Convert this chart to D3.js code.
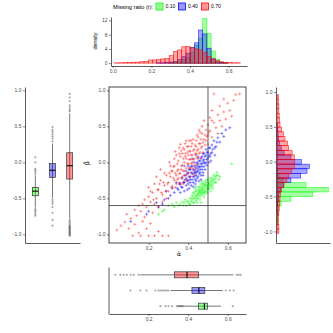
<!DOCTYPE html>
<html>
<head>
<meta charset="utf-8">
<script src="https://cdn.jsdelivr.net/npm/d3@7"></script>
<style>
  body { margin: 0; background: #fff; }
  text { font-family: "Liberation Sans", Arial, sans-serif; }
</style>
</head>
<body>
<svg width="333" height="333"></svg>
<script>
// Groups
const ratios = ["0.10", "0.40", "0.70"];
const colors = ["#00ff00", "#0000ff", "#ff0000"];

// Scatter points [alpha hat, beta hat]
const pointsGreen = [[0.40,-0.55],[0.41,-0.50],[0.41,-0.58],[0.42,-0.52],[0.42,-0.46],[0.43,-0.50],[0.43,-0.44],[0.43,-0.56],[0.44,-0.47],[0.44,-0.40],[0.44,-0.53],[0.45,-0.44],[0.45,-0.38],[0.45,-0.50],[0.46,-0.42],[0.46,-0.35],[0.46,-0.47],[0.47,-0.40],[0.47,-0.33],[0.47,-0.45],[0.48,-0.37],[0.48,-0.30],[0.48,-0.42],[0.49,-0.34],[0.49,-0.28],[0.49,-0.40],[0.50,-0.32],[0.50,-0.25],[0.50,-0.38],[0.51,-0.30],[0.51,-0.22],[0.52,-0.27],[0.52,-0.33],[0.53,-0.24],[0.53,-0.18],[0.54,-0.22],[0.55,-0.18],[0.56,-0.20],[0.38,-0.56],[0.39,-0.60],[0.37,-0.55],[0.36,-0.58],[0.35,-0.60],[0.34,-0.56],[0.33,-0.62],[0.30,-0.60],[0.28,-0.66],[0.25,-0.72],[0.27,-0.68],[0.32,-0.58],[0.62,-0.02],[0.48,-0.48],[0.46,-0.52],[0.51,-0.36],[0.47,-0.27],[0.44,-0.34],[0.45,-0.46],[0.47,-0.36],[0.49,-0.31],[0.50,-0.36],[0.46,-0.39],[0.48,-0.34],[0.42,-0.49],[0.52,-0.22],[0.54,-0.28],
  [0.415,-0.54],[0.425,-0.56],[0.425,-0.42],[0.435,-0.48],[0.435,-0.40],[0.445,-0.44],[0.445,-0.50],[0.455,-0.40],[0.455,-0.42],[0.455,-0.34],[0.465,-0.44],[0.465,-0.38],[0.465,-0.30],[0.475,-0.42],[0.475,-0.38],[0.475,-0.30],[0.485,-0.40],[0.485,-0.32],[0.485,-0.26],[0.495,-0.36],[0.495,-0.42],[0.495,-0.24],[0.505,-0.30],[0.505,-0.28],[0.505,-0.34],[0.515,-0.26],[0.515,-0.32],[0.525,-0.24],[0.525,-0.30],[0.535,-0.28],[0.535,-0.20],[0.545,-0.18],[0.555,-0.24],[0.445,-0.56],[0.405,-0.58],[0.395,-0.54],[0.385,-0.52],[0.435,-0.36],[0.465,-0.56],[0.485,-0.44],[0.515,-0.40],[0.545,-0.14],[0.525,-0.36],[0.375,-0.60]];
const pointsBlue = [[0.36,-0.30],[0.37,-0.35],[0.37,-0.22],[0.38,-0.28],[0.38,-0.18],[0.39,-0.32],[0.39,-0.22],[0.39,-0.12],[0.40,-0.25],[0.40,-0.15],[0.40,-0.30],[0.41,-0.20],[0.41,-0.10],[0.41,-0.28],[0.42,-0.16],[0.42,-0.05],[0.42,-0.24],[0.43,-0.12],[0.43,-0.20],[0.43,0.00],[0.44,-0.08],[0.44,-0.18],[0.44,-0.26],[0.45,-0.02],[0.45,-0.12],[0.45,0.06],[0.45,-0.20],[0.46,-0.06],[0.46,0.02],[0.46,-0.14],[0.47,0.08],[0.47,-0.02],[0.47,-0.10],[0.48,0.04],[0.48,0.12],[0.48,-0.06],[0.49,0.10],[0.49,0.00],[0.49,0.18],[0.50,0.06],[0.50,0.14],[0.51,0.20],[0.51,0.08],[0.52,0.24],[0.52,0.14],[0.53,0.30],[0.54,0.22],[0.55,0.34],[0.56,0.28],[0.57,0.40],[0.59,0.45],[0.61,0.48],[0.58,0.36],[0.35,-0.38],[0.34,-0.28],[0.33,-0.42],[0.32,-0.36],[0.31,-0.46],[0.30,-0.50],[0.29,-0.40],[0.28,-0.52],[0.27,-0.58],[0.25,-0.62],[0.24,-0.56],[0.20,-0.68],[0.19,-0.72],[0.11,-0.82],[0.36,-0.42],[0.38,-0.40],[0.40,-0.05],[0.42,0.05],[0.44,0.10],[0.38,-0.05],[0.44,-0.14],[0.46,-0.10],[0.43,-0.16],[0.47,-0.06],[0.45,-0.08],[0.41,-0.24],[0.48,0.00],
  [0.385,-0.24],[0.395,-0.26],[0.395,-0.16],[0.405,-0.20],[0.405,-0.10],[0.415,-0.14],[0.415,-0.32],[0.425,-0.20],[0.425,-0.10],[0.425,-0.28],[0.435,-0.06],[0.435,-0.24],[0.435,-0.14],[0.445,-0.04],[0.445,-0.12],[0.445,-0.22],[0.455,-0.16],[0.455,-0.06],[0.455,0.02],[0.465,-0.02],[0.465,-0.18],[0.465,0.06],[0.475,-0.14],[0.475,0.02],[0.475,0.12],[0.485,-0.02],[0.485,0.08],[0.485,-0.10],[0.495,0.04],[0.495,0.14],[0.495,-0.04],[0.505,0.10],[0.505,0.00],[0.505,0.20],[0.515,0.12],[0.515,0.02],[0.525,0.18],[0.535,0.20],[0.535,0.10],[0.545,0.28],[0.375,-0.28],[0.365,-0.34],[0.355,-0.30],[0.345,-0.36],[0.405,-0.36],[0.395,-0.38],[0.435,-0.30],[0.465,-0.24],[0.455,-0.26],[0.475,-0.18],[0.415,-0.06],[0.445,0.00],[0.425,-0.34]];
const pointsRed = [[0.30,-0.28],[0.31,-0.20],[0.32,-0.33],[0.32,-0.12],[0.33,-0.25],[0.33,-0.05],[0.34,-0.18],[0.34,-0.30],[0.35,-0.10],[0.35,0.02],[0.35,-0.22],[0.36,-0.15],[0.36,0.08],[0.36,-0.30],[0.37,-0.04],[0.37,-0.20],[0.37,0.12],[0.38,0.00],[0.38,-0.12],[0.38,-0.26],[0.38,0.18],[0.39,0.05],[0.39,-0.08],[0.39,-0.18],[0.40,0.10],[0.40,-0.02],[0.40,0.22],[0.40,-0.14],[0.41,0.04],[0.41,0.15],[0.41,-0.08],[0.42,0.26],[0.42,0.00],[0.42,0.10],[0.43,0.18],[0.43,0.05],[0.43,-0.04],[0.44,0.30],[0.44,0.12],[0.44,0.22],[0.45,0.08],[0.45,0.35],[0.45,0.18],[0.46,0.26],[0.46,0.14],[0.47,0.40],[0.47,0.22],[0.48,0.32],[0.49,0.45],[0.34,0.10],[0.31,-0.05],[0.29,-0.18],[0.28,-0.32],[0.30,-0.40],[0.33,0.05],[0.36,0.25],[0.39,0.30],[0.42,-0.15],[0.44,-0.02],[0.41,-0.20],
  [0.315,-0.12],[0.325,-0.22],[0.335,-0.15],[0.345,-0.02],[0.355,-0.28],[0.355,0.12],[0.365,-0.05],[0.365,-0.22],[0.375,0.05],[0.375,-0.12],[0.375,0.20],[0.385,0.08],[0.385,-0.18],[0.395,0.14],[0.395,-0.02],[0.395,0.22],[0.405,0.04],[0.405,0.16],[0.405,-0.08],[0.415,0.10],[0.415,0.22],[0.415,-0.02],[0.425,0.16],[0.425,0.04],[0.425,0.32],[0.435,0.12],[0.435,0.24],[0.435,-0.10],[0.445,0.06],[0.445,0.16],[0.455,0.26],[0.455,0.12],[0.465,0.20],[0.465,0.32],[0.475,0.28],[0.475,0.14],[0.485,0.38],[0.485,0.24],[0.495,0.36],[0.345,-0.12],[0.335,-0.35],[0.325,-0.06],[0.305,-0.15],[0.295,-0.30],[0.315,-0.35],[0.355,-0.16],[0.385,0.26],[0.365,0.16],[0.405,0.30],[0.445,0.38],[0.465,0.05],[0.435,-0.18],[0.395,-0.25],[0.375,-0.30],[0.285,-0.40],[0.275,-0.28],[0.265,-0.42],[0.255,-0.30],[0.245,-0.38],[0.225,-0.52],[0.305,0.00],[0.335,0.15],[0.355,0.20],[0.415,0.30],[0.455,0.45],[0.505,0.42],[0.425,-0.08],[0.385,0.12],[0.365,-0.10],[0.345,-0.24],
  [0.27,-0.45],[0.26,-0.25],[0.25,-0.38],[0.24,-0.50],[0.23,-0.30],[0.22,-0.42],[0.21,-0.55],[0.20,-0.48],[0.19,-0.62],[0.18,-0.52],[0.17,-0.58],[0.16,-0.68],[0.15,-0.60],[0.28,-0.15],[0.27,-0.55],[0.25,-0.62],[0.23,-0.58],[0.22,-0.70],[0.20,-0.35],[0.29,-0.50],[0.24,-0.20],[0.21,-0.40],[0.26,-0.10],
  [0.04,-0.94],[0.06,-0.88],[0.08,-0.83],[0.10,-0.92],[0.11,-0.78],[0.12,-1.02],[0.13,-0.86],[0.14,-0.74],[0.15,-0.98],[0.16,-1.02],[0.17,-0.82],[0.19,-0.92],[0.20,-1.02],[0.21,-0.85],[0.23,-1.02],[0.25,-0.96],[0.27,-1.02],[0.30,-1.02],[0.18,-0.76],[0.09,-0.72],[0.13,-0.66],
  [0.49,0.30],[0.50,0.52],[0.50,0.38],[0.51,0.62],[0.51,0.44],[0.52,0.35],[0.52,0.72],[0.53,0.55],[0.53,0.95],[0.54,0.48],[0.55,0.66],[0.55,0.40],[0.56,0.78],[0.56,0.58],[0.57,0.50],[0.58,0.70],[0.58,0.88],[0.59,0.60],[0.60,0.82],[0.61,0.72],[0.62,0.64],[0.63,0.86],[0.64,0.94],[0.66,0.95],[0.48,0.58],[0.47,0.50],[0.46,0.42],[0.52,0.58],[0.50,0.25]];

// Histogram of alpha hat (density), 30 bins
const alphaBinStart = 0.01;
const alphaBinWidth = 0.0217;
const alphaDensGreen = [0,0,0,0,0,0,0,0,0,0,0,0,0,0.1,0.3,0.5,1.0,1.5,3.0,5.0,7.0,12.5,8.3,3.4,1.0,0.3,0.1,0,0,0];
const alphaDensBlue  = [0,0,0,0,0,0,0,0,0,0,0.1,0.1,0.2,0.3,0.5,1.0,1.8,2.8,4.4,5.7,9.3,8.2,4.2,1.2,0.4,0.2,0.1,0,0,0];
const alphaDensRed   = [0.1,0.1,0.15,0.2,0.25,0.3,0.4,0.5,0.9,0.9,1.0,1.2,1.3,2.1,3.3,3.7,4.6,4.65,4.3,4.0,3.7,3.0,1.9,1.2,0.7,0.4,0.25,0.15,0.1,0.1];

// Histogram of beta hat (density), 30 bins
const betaBinStart = -1.03;
const betaBinWidth = 0.0663;
const betaDensGreen = [0,0,0.05,0.05,0.1,0.15,0.35,1.2,3.1,4.45,2.5,0.5,0.15,0.05,0,0,0,0,0,0,0,0,0,0,0,0,0,0,0,0];
const betaDensBlue  = [0,0,0,0,0.03,0.03,0.05,0.1,0.15,0.3,0.55,1.2,2.05,2.6,2.8,2.1,1.2,0.6,0.35,0.2,0.12,0.08,0.05,0.03,0,0,0,0,0,0];
const betaDensRed   = [0.15,0.15,0.12,0.12,0.15,0.18,0.2,0.25,0.3,0.4,0.6,0.85,1.03,1.28,1.5,1.54,1.5,1.3,1.0,0.9,0.68,0.55,0.4,0.25,0.2,0.18,0.15,0.15,0.12,0.1];

// Boxplot stats [lower whisker, q1, median, q3, upper whisker]
const alphaBoxStats = [[0.378,0.452,0.482,0.497,0.565],[0.31,0.419,0.454,0.484,0.575],[0.158,0.331,0.394,0.452,0.628]];
const alphaOutliers = [[0.26,0.285,0.30,0.318,0.343,0.35,0.355,0.36,0.365,0.37,0.375,0.625],
  [0.108,0.158,0.19,0.234,0.25,0.26,0.27,0.28,0.29,0.30,0.59,0.61,0.63],
  [0.032,0.057,0.074,0.09,0.11,0.125,0.15,0.645,0.655,0.665]];
const betaBoxStats = [[-0.63,-0.464,-0.40,-0.347,-0.18],[-0.50,-0.21,-0.11,-0.015,0.26],[-0.78,-0.232,-0.047,0.133,0.68]];
const betaOutliers = [[-0.16,-0.13,-0.11,-0.09,0.0,0.07,-0.65,-0.67,-0.69,-0.72,-0.74],
  [0.29,0.33,0.36,0.39,0.42,0.45,0.49,-0.52,-0.55,-0.58,-0.62,-0.70,-0.80,-0.88],
  [0.71,0.73,0.76,0.79,0.85,0.90,0.95,-0.80,-0.82,-0.84,-0.86,-0.88,-0.89,-0.90,-0.91,-0.92,-0.93,-0.94,-0.95,-0.96,-0.97,-0.98,-0.99,-1.00,-1.01,-1.02]];

const xTicks = [0.2, 0.4, 0.6];
const xTicksHist = [0.0, 0.2, 0.4, 0.6];
const yTicks = [-1.0, -0.5, 0.0, 0.5, 1.0];
const densTicks = [0, 4, 8, 12];

const svg = d3.select("svg");
const fmt = d => d3.format(".1f")(d).replace("\u2212", "-");
const axisColor = "#333";
const textColor = "#4d4d4d";

// Scales
const xSc = d3.scaleLinear().domain([0.0, 0.692]).range([109, 246]);
const ySc = d3.scaleLinear().domain([-1.12, 1.046]).range([243, 87]);
const xHist = d3.scaleLinear().domain([-0.009, 0.695]).range([111, 247]);
const yHist = d3.scaleLinear().domain([-0.8, 12.95]).range([66, 17]);
const yRight = d3.scaleLinear().domain([-1.165, 1.07]).range([243, 87]);
const xRight = d3.scaleLinear().domain([-0.1, 4.6]).range([276, 330]);
const xLeft = d3.scalePoint().domain(ratios).range([25, 80]).padding(0.6);
const yBottom = d3.scalePoint().domain(ratios.slice().reverse()).range([267, 314]).padding(0.5);

function styleAxis(g) {
  g.selectAll("path.domain").attr("stroke", axisColor).attr("stroke-width", 0.8);
  g.selectAll(".tick line").attr("stroke", axisColor).attr("stroke-width", 0.6);
  g.selectAll(".tick text").attr("fill", textColor).style("font-size", "5px")
    .style("font-family", "'Liberation Sans', Arial, sans-serif");
}

// ---- Top histogram ----
const topDens = [alphaDensGreen, alphaDensBlue, alphaDensRed];
topDens.forEach(function (dens, gi) {
  svg.append("g").selectAll("rect")
    .data(dens).enter().append("rect")
      .attr("x", (d, i) => xHist(alphaBinStart + i * alphaBinWidth))
      .attr("width", xHist(alphaBinWidth) - xHist(0))
      .attr("y", d => yHist(d))
      .attr("height", d => yHist(0) - yHist(d))
      .attr("fill", colors[gi]).attr("fill-opacity", 0.35)
      .attr("stroke", colors[gi]).attr("stroke-width", 0.6).attr("stroke-opacity", 0.8);
});
svg.append("g").attr("transform", "translate(111,0)")
  .call(d3.axisLeft(yHist).tickValues(densTicks).tickSize(2).tickPadding(1.5).tickSizeOuter(0))
  .call(styleAxis);
svg.append("g").attr("transform", "translate(0,66)")
  .call(d3.axisBottom(xHist).tickValues(xTicksHist).tickFormat(fmt).tickSize(2).tickPadding(1.5).tickSizeOuter(0))
  .call(styleAxis);
svg.append("text").attr("transform", "translate(97,41)rotate(-90)")
  .attr("text-anchor", "middle").style("font-size", "5.4px").attr("fill", "#000").text("density");

// Legend
svg.append("text").attr("x", 113).attr("y", 8.5).style("font-size", "5.6px").attr("fill", "#000")
  .text("Missing ratio (r):");
const legendX = [156, 178.5, 201.5];
ratios.forEach(function (r, i) {
  svg.append("rect").attr("x", legendX[i]).attr("y", 3).attr("width", 7).attr("height", 7)
    .attr("fill", colors[i]).attr("fill-opacity", 0.4)
    .attr("stroke", colors[i]).attr("stroke-width", 0.8);
  svg.append("text").attr("x", legendX[i] + 9.5).attr("y", 8.3)
    .style("font-size", "5px").attr("fill", "#000").text(r);
});

// ---- Main scatter ----
const plus = "M-1.5,0H1.5M0,-1.5V1.5";
[pointsGreen, pointsBlue, pointsRed].forEach(function (pts, gi) {
  svg.append("g").selectAll("path")
    .data(pts).enter().append("path")
      .attr("d", plus)
      .attr("transform", d => "translate(" + xSc(d[0]) + "," + ySc(d[1]) + ")")
      .attr("stroke", colors[gi]).attr("stroke-width", 0.7)
      .attr("stroke-opacity", gi === 2 ? 0.5 : 0.6)
      .attr("fill", "none");
});
svg.append("line").attr("x1", xSc(0.5)).attr("x2", xSc(0.5)).attr("y1", 87).attr("y2", 243)
  .attr("stroke", axisColor).attr("stroke-width", 0.8);
svg.append("line").attr("x1", 109).attr("x2", 246).attr("y1", ySc(-0.6)).attr("y2", ySc(-0.6))
  .attr("stroke", axisColor).attr("stroke-width", 0.8);
svg.append("rect").attr("x", 109).attr("y", 87).attr("width", 137).attr("height", 156)
  .attr("fill", "none").attr("stroke", axisColor).attr("stroke-width", 0.9);
svg.append("g").attr("transform", "translate(109,0)")
  .call(d3.axisLeft(ySc).tickValues(yTicks).tickFormat(fmt).tickSize(2).tickPadding(1.5).tickSizeOuter(0))
  .call(styleAxis).call(g => g.select("path.domain").remove());
svg.append("g").attr("transform", "translate(0,243)")
  .call(d3.axisBottom(xSc).tickValues(xTicks).tickFormat(fmt).tickSize(2).tickPadding(1.5).tickSizeOuter(0))
  .call(styleAxis).call(g => g.select("path.domain").remove());
svg.append("text").attr("x", 179).attr("y", 256).attr("text-anchor", "middle")
  .style("font-size", "6px").style("font-family", "'DejaVu Sans', sans-serif")
  .attr("fill", "#000").text("\u03b1\u0302");
svg.append("text").attr("transform", "translate(89,163)rotate(-90)").attr("text-anchor", "middle")
  .style("font-size", "6px").style("font-family", "'DejaVu Sans', sans-serif")
  .attr("fill", "#000").text("\u03b2\u0302");

// ---- Left boxplots (beta) ----
const boxW = 6;
ratios.forEach(function (r, i) {
  const s = betaBoxStats[i];
  const cx = xLeft(r);
  const g = svg.append("g");
  g.append("line").attr("x1", cx).attr("x2", cx).attr("y1", ySc(s[0])).attr("y2", ySc(s[4]))
    .attr("stroke", "#777").attr("stroke-width", 1);
  g.selectAll("circle").data(betaOutliers[i]).enter().append("circle")
    .attr("cx", cx).attr("cy", d => ySc(d)).attr("r", 1.1)
    .attr("fill", "#555").attr("fill-opacity", 0.5);
  g.append("rect").attr("x", cx - boxW / 2).attr("width", boxW)
    .attr("y", ySc(s[3])).attr("height", ySc(s[1]) - ySc(s[3]))
    .attr("fill", colors[i]).attr("fill-opacity", 0.4)
    .attr("stroke", axisColor).attr("stroke-width", 0.7);
  g.append("line").attr("x1", cx - boxW / 2).attr("x2", cx + boxW / 2)
    .attr("y1", ySc(s[2])).attr("y2", ySc(s[2])).attr("stroke", "#000").attr("stroke-width", 1.1);
});
svg.append("g").attr("transform", "translate(25,0)")
  .call(d3.axisLeft(ySc).tickValues(yTicks).tickFormat(fmt).tickSize(2).tickPadding(1.5).tickSizeOuter(0))
  .call(styleAxis);
svg.append("g").attr("transform", "translate(0,243)")
  .call(d3.axisBottom(xLeft).tickValues([]).tickSizeOuter(0))
  .call(styleAxis);

// ---- Right histogram (beta) ----
const rightDens = [betaDensGreen, betaDensBlue, betaDensRed];
rightDens.forEach(function (dens, gi) {
  svg.append("g").selectAll("rect")
    .data(dens).enter().append("rect")
      .attr("x", xRight(0))
      .attr("width", d => xRight(d) - xRight(0))
      .attr("y", (d, i) => yRight(betaBinStart + (i + 1) * betaBinWidth))
      .attr("height", yRight(0) - yRight(betaBinWidth))
      .attr("fill", colors[gi]).attr("fill-opacity", 0.35)
      .attr("stroke", colors[gi]).attr("stroke-width", 0.6).attr("stroke-opacity", 0.8);
});
svg.append("g").attr("transform", "translate(276,0)")
  .call(d3.axisLeft(yRight).tickValues(yTicks).tickFormat(fmt).tickSize(2).tickPadding(1.5).tickSizeOuter(0))
  .call(styleAxis);
svg.append("g").attr("transform", "translate(0,243)")
  .call(d3.axisBottom(xRight).tickValues([]).tickSizeOuter(0))
  .call(styleAxis);

// ---- Bottom boxplots (alpha) ----
const boxH = 6;
ratios.forEach(function (r, i) {
  const s = alphaBoxStats[i];
  const cy = yBottom(r);
  const g = svg.append("g");
  g.append("line").attr("y1", cy).attr("y2", cy).attr("x1", xSc(s[0])).attr("x2", xSc(s[4]))
    .attr("stroke", "#777").attr("stroke-width", 1);
  g.selectAll("circle").data(alphaOutliers[i]).enter().append("circle")
    .attr("cy", cy).attr("cx", d => xSc(d)).attr("r", 1.1)
    .attr("fill", "#555").attr("fill-opacity", 0.5);
  g.append("rect").attr("y", cy - boxH / 2).attr("height", boxH)
    .attr("x", xSc(s[1])).attr("width", xSc(s[3]) - xSc(s[1]))
    .attr("fill", colors[i]).attr("fill-opacity", 0.4)
    .attr("stroke", axisColor).attr("stroke-width", 0.7);
  g.append("line").attr("y1", cy - boxH / 2).attr("y2", cy + boxH / 2)
    .attr("x1", xSc(s[2])).attr("x2", xSc(s[2])).attr("stroke", "#000").attr("stroke-width", 1.1);
});
svg.append("g").attr("transform", "translate(108.5,0)")
  .call(d3.axisLeft(yBottom).tickValues([]).tickSizeOuter(0))
  .call(styleAxis);
svg.append("g").attr("transform", "translate(0,314)")
  .call(d3.axisBottom(xSc).tickValues(xTicks).tickFormat(fmt).tickSize(2).tickPadding(1.5).tickSizeOuter(0))
  .call(styleAxis);
</script>
</body>
</html>
